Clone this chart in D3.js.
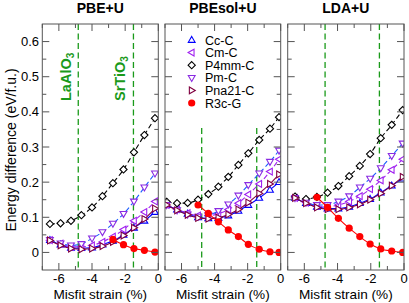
<!DOCTYPE html>
<html><head><meta charset="utf-8">
<script src="https://cdn.jsdelivr.net/npm/d3@7"></script>
<style>body{margin:0;background:#fff}svg text{font-family:Arial,"Liberation Sans",Helvetica,sans-serif}</style>
</head><body><svg id="c" width="409" height="303"></svg>
<script>
const panelTitles = ["PBE+U","PBEsol+U","LDA+U"];
const seriesNames = ["Cc-C","Cm-C","P4mm-C","Pm-C","Pna21-C","R3c-G"];
const xTicks = [-6,-4,-2,0];
const yTicks = [0,0.1,0.2,0.3,0.4,0.5,0.6];
const substrateNames = ["LaAlO3","SrTiO3"];
const substrateStrain = [[-4.83,-1.5],[-4.78,-1.45],[-4.75,-1.48]];

// strain grids
const strainPBE = [-6.54,-5.9,-5.27,-4.64,-4.0,-3.37,-2.74,-2.1,-1.47,-0.84,-0.2];
const strainPBEsol = [-6.9,-6.27,-5.63,-5.0,-4.38,-3.77,-3.17,-2.56,-1.96,-1.3,-0.65,-0.1];
const strainLDA = [-6.56,-5.9,-5.24,-4.6,-3.95,-3.3,-2.66,-2.04,-1.4,-0.74,-0.08];

// PBE+U
const ccC_PBE    = [0.035,0.022,0.013,0.012,0.014,0.022,0.033,0.05,0.07,0.09,0.115];
const cmC_PBE    = [0.035,0.025,0.016,0.016,0.02,0.03,0.045,0.065,0.09,0.115,0.145];
const p4mm_PBE   = [0.081,0.083,0.09,0.106,0.128,0.16,0.197,0.236,0.285,0.334,0.382];
const pmC_PBE    = [0.036,0.026,0.02,0.024,0.04,0.058,0.082,0.11,0.145,0.185,0.225];
const pna21_PBE  = [0.034,0.02,0.011,0.009,0.011,0.018,0.03,0.048,0.07,0.095,0.125];
const r3c_PBE    = [null,null,null,null,null,null,0.037,0.022,0.011,0.006,0.001];

// PBEsol+U
const ccC_PBEsol   = [0.135,0.122,0.11,0.1,0.097,0.098,0.105,0.118,0.135,0.155,0.178,0.2];
const cmC_PBEsol   = [0.135,0.123,0.112,0.105,0.105,0.11,0.122,0.14,0.165,0.195,0.23,0.265];
const p4mm_PBEsol  = [0.144,0.14,0.141,0.15,0.166,0.187,0.215,0.249,0.282,0.32,0.352,0.385];
const pmC_PBEsol   = [0.135,0.12,0.108,0.102,0.106,0.118,0.137,0.162,0.192,0.225,0.258,0.29];
const pna21_PBEsol = [0.135,0.12,0.107,0.098,0.096,0.099,0.108,0.122,0.142,0.168,0.195,0.222];
const r3c_PBEsol   = [null,null,null,0.135,0.111,0.087,0.064,0.045,0.023,0.009,0.002,0.0];

// LDA+U
const ccC_LDA    = [0.155,0.14,0.13,0.125,0.125,0.13,0.14,0.152,0.17,0.19,0.21];
const cmC_LDA    = [0.155,0.142,0.133,0.13,0.135,0.145,0.16,0.18,0.205,0.235,0.265];
const p4mm_LDA   = [0.159,0.152,0.158,0.17,0.189,0.217,0.246,0.28,0.325,0.363,0.405];
const pmC_LDA    = [0.155,0.142,0.135,0.135,0.145,0.16,0.185,0.21,0.24,0.275,0.31];
const pna21_LDA  = [0.155,0.14,0.128,0.123,0.123,0.128,0.137,0.15,0.168,0.19,0.215];
const r3c_LDA    = [null,null,0.157,0.128,0.097,0.069,0.045,0.024,0.01,0.004,0.0];

const panelData = [
  {strain: strainPBE, values: [ccC_PBE,cmC_PBE,p4mm_PBE,pmC_PBE,pna21_PBE,r3c_PBE]},
  {strain: strainPBEsol, values: [ccC_PBEsol,cmC_PBEsol,p4mm_PBEsol,pmC_PBEsol,pna21_PBEsol,r3c_PBEsol]},
  {strain: strainLDA, values: [ccC_LDA,cmC_LDA,p4mm_LDA,pmC_LDA,pna21_LDA,r3c_LDA]}
];

const styles = [
  {color:"#0000ff", line:"#0000ff", dash:null, sym:"tu", fill:"none"},
  {color:"#a020f0", line:"#a020f0", dash:"5,3", sym:"tl", fill:"none"},
  {color:"#000000", line:"#000000", dash:"5,3", sym:"d", fill:"none"},
  {color:"#8a2be2", line:"#1a5cff", dash:"5,3", sym:"td", fill:"none"},
  {color:"#800040", line:"#800040", dash:null, sym:"tr", fill:"none"},
  {color:"#ff0000", line:"#ff0000", dash:null, sym:"c", fill:"#ff0000"}
];

const svg = d3.select("#c");
const panelX = [[42.3,158.3],[165,280.7],[287.7,404]];
const topY = 24, bottomY = 270;
const y = d3.scaleLinear().domain([-0.05,0.65]).range([bottomY, topY]);

function symPath(s, r){
  switch(s){
    case "tu": return `M0,${-r}L${r*0.95},${r*0.65}L${-r*0.95},${r*0.65}Z`;
    case "td": return `M0,${r}L${r*0.95},${-r*0.65}L${-r*0.95},${-r*0.65}Z`;
    case "tl": return `M${-r},0L${r*0.65},${-r*0.95}L${r*0.65},${r*0.95}Z`;
    case "tr": return `M${r},0L${-r*0.65},${-r*0.95}L${-r*0.65},${r*0.95}Z`;
    case "d": return `M0,${-r}L${r},0L0,${r}L${-r},0Z`;
  }
}

panelTitles.forEach((title, pi) => {
  const x = d3.scaleLinear().domain([-7,0]).range(panelX[pi]);
  const g = svg.append("g");
  const [x0,x1] = panelX[pi];
  const cid = "clip"+pi;
  svg.append("clipPath").attr("id",cid).append("rect").attr("x",x0).attr("y",topY).attr("width",x1-x0).attr("height",bottomY-topY);

  substrateStrain[pi].forEach((s, si) => {
    g.append("line").attr("x1",x(s)).attr("x2",x(s))
      .attr("y1", pi===1 ? 128 : topY).attr("y2",bottomY)
      .attr("stroke","#1a9a1a").attr("stroke-width",1.3).attr("stroke-dasharray","6,3.5");
  });

  const pd = panelData[pi];
  const plot = g.append("g").attr("clip-path",`url(#${cid})`);
  pd.values.forEach((vals, k) => {
    const st = styles[k];
    const pts = pd.strain.map((s,i)=>[s,vals[i]]).filter(p=>p[1]!==null);
    const line = d3.line().x(p=>x(p[0])).y(p=>y(p[1])).curve(d3.curveMonotoneX);
    plot.append("path").attr("d",line(pts)).attr("fill","none")
      .attr("stroke",st.line).attr("stroke-width",1.1)
      .attr("stroke-dasharray",st.dash);
    pts.forEach(p => {
      if(st.sym==="c"){
        plot.append("circle").attr("cx",x(p[0])).attr("cy",y(p[1])).attr("r",3.6).attr("fill",st.fill);
      } else {
        plot.append("path").attr("d",symPath(st.sym,3.6)).attr("transform",`translate(${x(p[0])},${y(p[1])})`)
          .attr("fill","#fff").attr("stroke",st.color).attr("stroke-width",1.1);
      }
    });
  });

  g.append("rect").attr("x",x0).attr("y",topY).attr("width",x1-x0).attr("height",bottomY-topY)
    .attr("fill","none").attr("stroke","#555").attr("stroke-width",1);

  const xMinor = d3.range(-7,1,1);
  xMinor.forEach(v=>{
    const major = xTicks.includes(v);
    const len = major?7:4;
    g.append("line").attr("x1",x(v)).attr("x2",x(v)).attr("y1",bottomY).attr("y2",bottomY-len).attr("stroke","#555");
    g.append("line").attr("x1",x(v)).attr("x2",x(v)).attr("y1",topY).attr("y2",topY+len).attr("stroke","#555");
  });
  xTicks.forEach(v=>{
    g.append("text").attr("x",x(v)).attr("y",283).attr("text-anchor","middle").attr("font-size",13).text(v===0?"0":"-"+Math.abs(v));
  });
  d3.range(0,13).map(i=>i*0.05).forEach((v,i)=>{
    const len = i%2===0?7:4;
    g.append("line").attr("x1",x0).attr("x2",x0+len).attr("y1",y(v)).attr("y2",y(v)).attr("stroke","#555");
    g.append("line").attr("x1",x1).attr("x2",x1-len).attr("y1",y(v)).attr("y2",y(v)).attr("stroke","#555");
  });
  if(pi===0){
    yTicks.forEach(v=>{
      g.append("text").attr("x",39).attr("y",y(v)+4.6).attr("text-anchor","end").attr("font-size",13).text(v===0?"0":v.toFixed(1));
    });
  }
  g.append("text").attr("x",(x0+x1)/2).attr("y",12.5).attr("text-anchor","middle").attr("font-size",14).attr("font-weight","bold").text(title);
  g.append("text").attr("x",(x0+x1)/2).attr("y",298.5).attr("text-anchor","middle").attr("font-size",13.6).text("Misfit strain (%)");

  if(pi===0){
    const labX = [65,119];
    substrateNames.forEach((nm,si)=>{
      const t = g.append("text").attr("transform",`translate(${labX[si]+5.5},101) rotate(-90)`)
        .attr("font-size",14.5).attr("font-weight","bold").attr("fill","#1a9a1a");
      t.append("tspan").text(nm.slice(0,-1));
      t.append("tspan").attr("font-size",10).attr("dy",3.5).text("3");
    });
  }
  if(pi===1){
    const rows=[40,52.6,65.2,77.8,90.4,103];
    seriesNames.forEach((nm,k)=>{
      const st = styles[k];
      if(st.sym==="c") g.append("circle").attr("cx",191.7).attr("cy",rows[k]).attr("r",3.6).attr("fill",st.fill);
      else g.append("path").attr("d",symPath(st.sym,3.6)).attr("transform",`translate(191.7,${rows[k]})`).attr("fill","none").attr("stroke",st.color).attr("stroke-width",1.1);
      g.append("text").attr("x",205).attr("y",rows[k]+4.5).attr("font-size",12.5).text(nm);
    });
  }
});
svg.append("text").attr("transform","translate(15.5,150) rotate(-90)").attr("text-anchor","middle").attr("font-size",14).text("Energy difference (eV/f.u.)");
</script></body></html>
